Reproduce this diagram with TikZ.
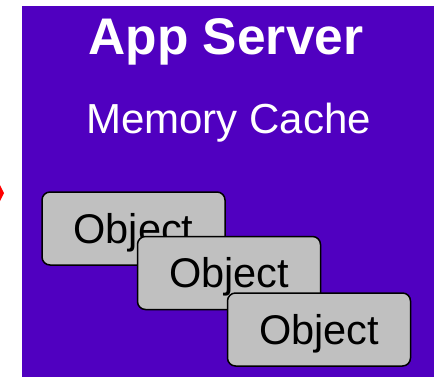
\documentclass[tikz,border=0pt]{standalone}
\usepackage{fontspec}
\setmainfont{Liberation Sans}
\usetikzlibrary{positioning}
\definecolor{serverlila}{RGB}{80,0,192}
\definecolor{objgrau}{RGB}{192,192,192}

\begin{document}
\begin{tikzpicture}[x=1pt, y=-1pt, every node/.style={inner sep=0pt, text=white}]

        % Stile definieren
        \tikzstyle{server}=[fill=serverlila, draw=none, minimum width=412pt, minimum height=371pt]
        \tikzstyle{obj}=[draw=black, fill=objgrau, rounded corners=8pt, line width=1.5pt, minimum width=183pt, minimum height=73pt, text height=33pt, text depth=4pt, text=black, font=\fontsize{41.5}{41.5}\selectfont]

        \useasboundingbox (0,0) rectangle (436,377);

        % Server
        \node[server] (server) at (228,191.5) {};
        \node[font=\fontsize{51.5}{51.5}\selectfont\bfseries, anchor=base] (title) at (226,55) {App Server};
        \node[font=\fontsize{42}{42}\selectfont, anchor=base] (cache) at (228.5,134) {Memory Cache};

        % Pfeilspitze links (abgeschnitten)
        \fill[red] (0,185) -- (4,193) -- (0,201) -- cycle;

        % Objekte
        \node[obj] (obj1) at (133.5,228.5) {Object};
        \node[obj] (obj2) at (229,273) {Object};
        \node[obj] (obj3) at (319,329.5) {Object};
\end{tikzpicture}
\end{document}
